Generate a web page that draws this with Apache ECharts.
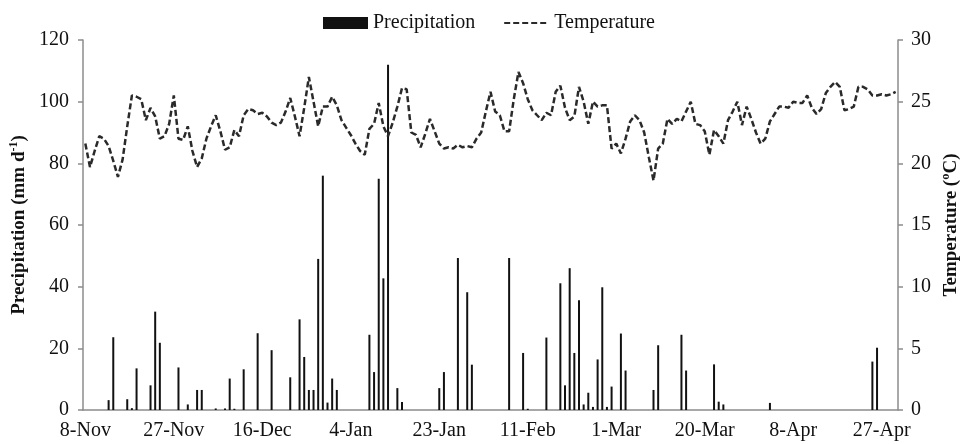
<!DOCTYPE html>
<html lang="en">
<head>
    <meta charset="UTF-8">
    <title>Precipitation and temperature</title>
    <style>
        html, body { margin: 0; padding: 0; background: #fff; }
        #main { width: 964px; height: 444px; }
    </style>
</head>
<body>
<div id="main"></div>
<script src="https://cdn.jsdelivr.net/npm/echarts@6/dist/echarts.min.js"></script>
<script>
    // one category per day, starting 8-Nov (leap-year season, Feb has 29 days)
    var startDay = [2011, 10, 8];
    var dayCount = 175;
    var monthNames = ['Jan', 'Feb', 'Mar', 'Apr', 'May', 'Jun', 'Jul', 'Aug', 'Sep', 'Oct', 'Nov', 'Dec'];
    var labelStep = 19;

    // rainy days (day number counted from 8-Nov) and rain amount, mm d-1
    var rainDay = [5, 6, 9, 10, 11, 14, 15, 16, 20, 22, 24, 25, 28, 30, 31, 32, 34, 37, 40,
        44, 46, 47, 48, 49, 50, 51, 52, 53, 54, 61, 62, 63, 64, 65, 67, 68,
        76, 77, 80, 82, 83, 91, 94, 95, 99,
        102, 103, 104, 105, 106, 107, 108, 109, 110, 111, 112, 113, 115, 116,
        122, 123, 128, 129, 135, 136, 137, 147, 169, 170];
    var rainMm = [3.2, 23.6, 3.5, 0.6, 13.5, 8, 31.9, 21.8, 13.8, 1.8, 6.5, 6.5, 0.5, 0.5, 10.2, 0.4, 13.2, 24.9, 19.4,
        10.6, 29.4, 17.2, 6.5, 6.5, 49, 76, 2.4, 10.2, 6.5, 24.4, 12.3, 75, 42.7, 112, 7.1, 2.6,
        7.1, 12.3, 49.3, 38.2, 14.7, 49.3, 18.5, 0.4, 23.5,
        41.1, 8, 46, 18.5, 35.6, 1.8, 5.6, 1, 16.4, 39.8, 1, 7.6, 24.8, 12.8,
        6.5, 21, 24.4, 12.8, 14.8, 2.7, 1.8, 2.3, 15.7, 20.2];

    // daily mean temperature, ºC
    var temperature = [
        21.6, 19.7, 21.0, 22.2, 22.0, 21.4, 20.2, 18.9, 20.3, 23.0,
        25.5, 25.4, 25.2, 23.5, 24.5, 23.8, 22.0, 22.2, 23.2, 25.5,
        22.0, 21.9, 23.0, 21.0, 19.7, 20.4, 22.0, 23.0, 23.9, 22.6,
        21.1, 21.3, 22.7, 22.2, 23.9, 24.4, 24.3, 24.0, 24.1, 23.8,
        23.3, 23.1, 23.3, 24.2, 25.3, 23.8, 22.2, 24.5, 27.0, 25.0,
        23.0, 24.6, 24.6, 25.4, 24.7, 23.5, 22.9, 22.3, 21.6, 21.0,
        20.7, 22.8, 23.2, 24.9, 23.0, 22.2, 23.3, 24.6, 26.1, 26.0,
        22.5, 22.3, 21.3, 22.4, 23.6, 22.6, 21.6, 21.2, 21.3, 21.2,
        21.5, 21.3, 21.4, 21.3, 22.0, 22.5, 24.2, 25.8, 24.2, 23.9,
        22.6, 22.6, 25.2, 27.4, 26.5, 25.2, 24.3, 23.9, 23.5, 24.1,
        23.9, 25.8, 26.3, 24.5, 23.5, 23.8, 26.2, 25.0, 23.2, 25.0,
        24.6, 24.7, 24.7, 21.2, 21.6, 20.8, 22.0, 23.4, 23.9, 23.5,
        22.5, 20.5, 18.6, 21.2, 21.6, 23.6, 23.2, 23.6, 23.4, 24.2,
        25.0, 23.2, 23.1, 22.6, 20.7, 22.7, 22.2, 21.6, 23.5, 24.2,
        25.0, 23.1, 24.6, 23.6, 22.5, 21.6, 22.0, 23.4, 24.0, 24.6,
        24.6, 24.5, 25.0, 24.9, 24.9, 25.5, 24.5, 24.0, 24.4, 25.7,
        26.2, 26.6, 26.2, 24.3, 24.4, 24.6, 26.2, 26.2, 26.0, 25.5,
        25.5, 25.6, 25.5, 25.6, 25.8
    ];

    var dates = [];
    for (var i = 0; i < dayCount; i++) {
        var d = new Date(startDay[0], startDay[1], startDay[2] + i);
        dates.push(d.getDate() + '-' + monthNames[d.getMonth()]);
    }

    var precipitation = [];
    for (var j = 0; j < dayCount; j++) {
        precipitation.push(0);
    }
    rainDay.forEach(function (day, k) {
        precipitation[day] = rainMm[k];
    });

    var serif = 'Liberation Serif';
    var axisGrey = '#8c8c8c';
    var showEvery = function (idx) {
        return idx % labelStep === 0;
    };

    var myChart = echarts.init(document.getElementById('main'));
    var option = {
        animation: false,
        backgroundColor: '#fff',
        textStyle: {fontFamily: serif, color: '#111'},
        legend: {
            left: 318,
            top: 8,
            itemWidth: 45,
            itemHeight: 12,
            itemGap: 28,
            textStyle: {fontFamily: serif, fontSize: 20, color: '#111'},
            data: [
                {name: 'Precipitation', icon: 'rect'},
                {name: 'Temperature', itemStyle: {opacity: 0}}
            ]
        },
        grid: {left: 83, right: 66, top: 40, bottom: 34, containLabel: false, outerBoundsMode: 'none'},
        xAxis: {
            type: 'category',
            data: dates,
            boundaryGap: true,
            axisLine: {lineStyle: {color: axisGrey, width: 1.5}},
            axisTick: {interval: showEvery, length: 5, lineStyle: {color: axisGrey, width: 1.5}},
            axisLabel: {interval: showEvery, fontFamily: serif, fontSize: 20, color: '#111', margin: 11}
        },
        yAxis: [
            {
                type: 'value',
                min: 0,
                max: 120,
                interval: 20,
                name: 'Precipitation (mm d{sup|-1})',
                nameLocation: 'middle',
                nameRotate: 90,
                nameGap: 46,
                nameTextStyle: {
                    fontFamily: serif, fontSize: 19, fontWeight: 'bold', color: '#111',
                    rich: {sup: {fontFamily: serif, fontSize: 12, fontWeight: 'bold', color: '#111', padding: [0, 0, 9, 0]}}
                },
                splitLine: {show: false},
                axisLine: {show: true, lineStyle: {color: axisGrey, width: 1.5}},
                axisTick: {show: true, length: 5, lineStyle: {color: axisGrey, width: 1.5}},
                axisLabel: {fontFamily: serif, fontSize: 20, color: '#111', margin: 14}
            },
            {
                type: 'value',
                min: 0,
                max: 30,
                interval: 5,
                position: 'right',
                name: 'Temperature (ºC)',
                nameLocation: 'middle',
                nameRotate: 90,
                nameGap: 40,
                nameTextStyle: {fontFamily: serif, fontSize: 19, fontWeight: 'bold', color: '#111'},
                splitLine: {show: false},
                axisLine: {show: true, lineStyle: {color: axisGrey, width: 1.5}},
                axisTick: {show: true, length: 5, lineStyle: {color: axisGrey, width: 1.5}},
                axisLabel: {fontFamily: serif, fontSize: 20, color: '#111', margin: 13}
            }
        ],
        series: [
            {
                name: 'Precipitation',
                type: 'bar',
                yAxisIndex: 0,
                barWidth: 2,
                itemStyle: {color: '#111'},
                data: precipitation
            },
            {
                name: 'Temperature',
                type: 'line',
                yAxisIndex: 1,
                symbol: 'none',
                lineStyle: {color: '#2a2a2a', width: 2.5, type: [6, 3]},
                itemStyle: {color: '#2a2a2a'},
                data: temperature
            }
        ]
    };
    myChart.setOption(option);
</script>
</body>
</html>
